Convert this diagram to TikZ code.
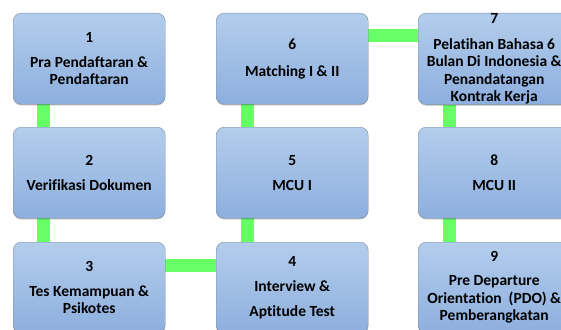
\documentclass[tikz,border=0pt]{standalone}
\usepackage{fontspec}
\setmainfont{Carlito}[Ligatures={NoCommon}]
\usetikzlibrary{shadows}
\usetikzlibrary{backgrounds}

\definecolor{boxtop}{HTML}{B3CDEC}
\definecolor{boxbot}{HTML}{8DAFDE}
\definecolor{boxedge}{HTML}{7D8DA3}
\definecolor{linkgreen}{HTML}{66FF66}

\begin{document}
\begin{tikzpicture} [x=1pt, y=-1pt,
  stage/.style={draw=boxedge, rounded corners=8pt, top color=boxtop, bottom color=boxbot,
    minimum width=152pt, minimum height=91pt, anchor=north west, align=center, inner sep=0pt,
    font=\bfseries\fontsize{15.5}{17.5}\selectfont,
    drop shadow={shadow xshift=0pt, shadow yshift=-1.2pt, opacity=.25, fill=black}},
  link/.style={linkgreen, line width=13pt}]
\clip (0,0) rectangle (561,329);

\node[stage] (s1) at (13,13)  {1\\[7.5pt]Pra Pendaftaran \&\\Pendaftaran};
\node[stage] (s2) at (13,127) {2\\[7.5pt]Verifikasi Dokumen};
\node[stage] (s3) at (13,242) {3\\[7.5pt]Tes Kemampuan \&\\Psikotes};
\node[stage] (s4) at (216,242) {4\\[7.5pt]Interview \&\\[7.5pt]Aptitude Test};
\node[stage] (s5) at (216,127) {5\\[7.5pt]MCU I};
\node[stage] (s6) at (216,13)  {6\\[9.5pt]Matching I \& II};
\node[stage] (s7) at (418,13)  {7\\[8.5pt]Pelatihan Bahasa 6\\Bulan Di Indonesia \&\\Penandatangan\\Kontrak Kerja};
\node[stage] (s8) at (418,127) {8\\[7.5pt]MCU II};
\node[stage] (s9) at (418,242) {9\\[6.5pt]Pre Departure\\Orientation \ (PDO) \&\\Pemberangkatan};

% green links behind the boxes
\begin{scope}[on background layer]
\draw[link] ([xshift=30.5pt]s1.south west) -- ([xshift=30.5pt]s2.north west);
\draw[link] ([xshift=30.5pt]s2.south west) -- ([xshift=30.5pt]s3.north west);
\draw[link] ([yshift=-23pt]s3.north east) -- ([yshift=-23pt]s4.north west);
\draw[link] ([xshift=31.5pt]s4.north west) -- ([xshift=31.5pt]s5.south west);
\draw[link] ([xshift=31.5pt]s5.north west) -- ([xshift=31.5pt]s6.south west);
\draw[link] ([yshift=-22.5pt]s6.north east) -- ([yshift=-22.5pt]s7.north west);
\draw[link] ([xshift=31.5pt]s7.south west) -- ([xshift=31.5pt]s8.north west);
\draw[link] ([xshift=31.5pt]s8.south west) -- ([xshift=31.5pt]s9.north west);
\end{scope}

\end{tikzpicture}
\end{document}
